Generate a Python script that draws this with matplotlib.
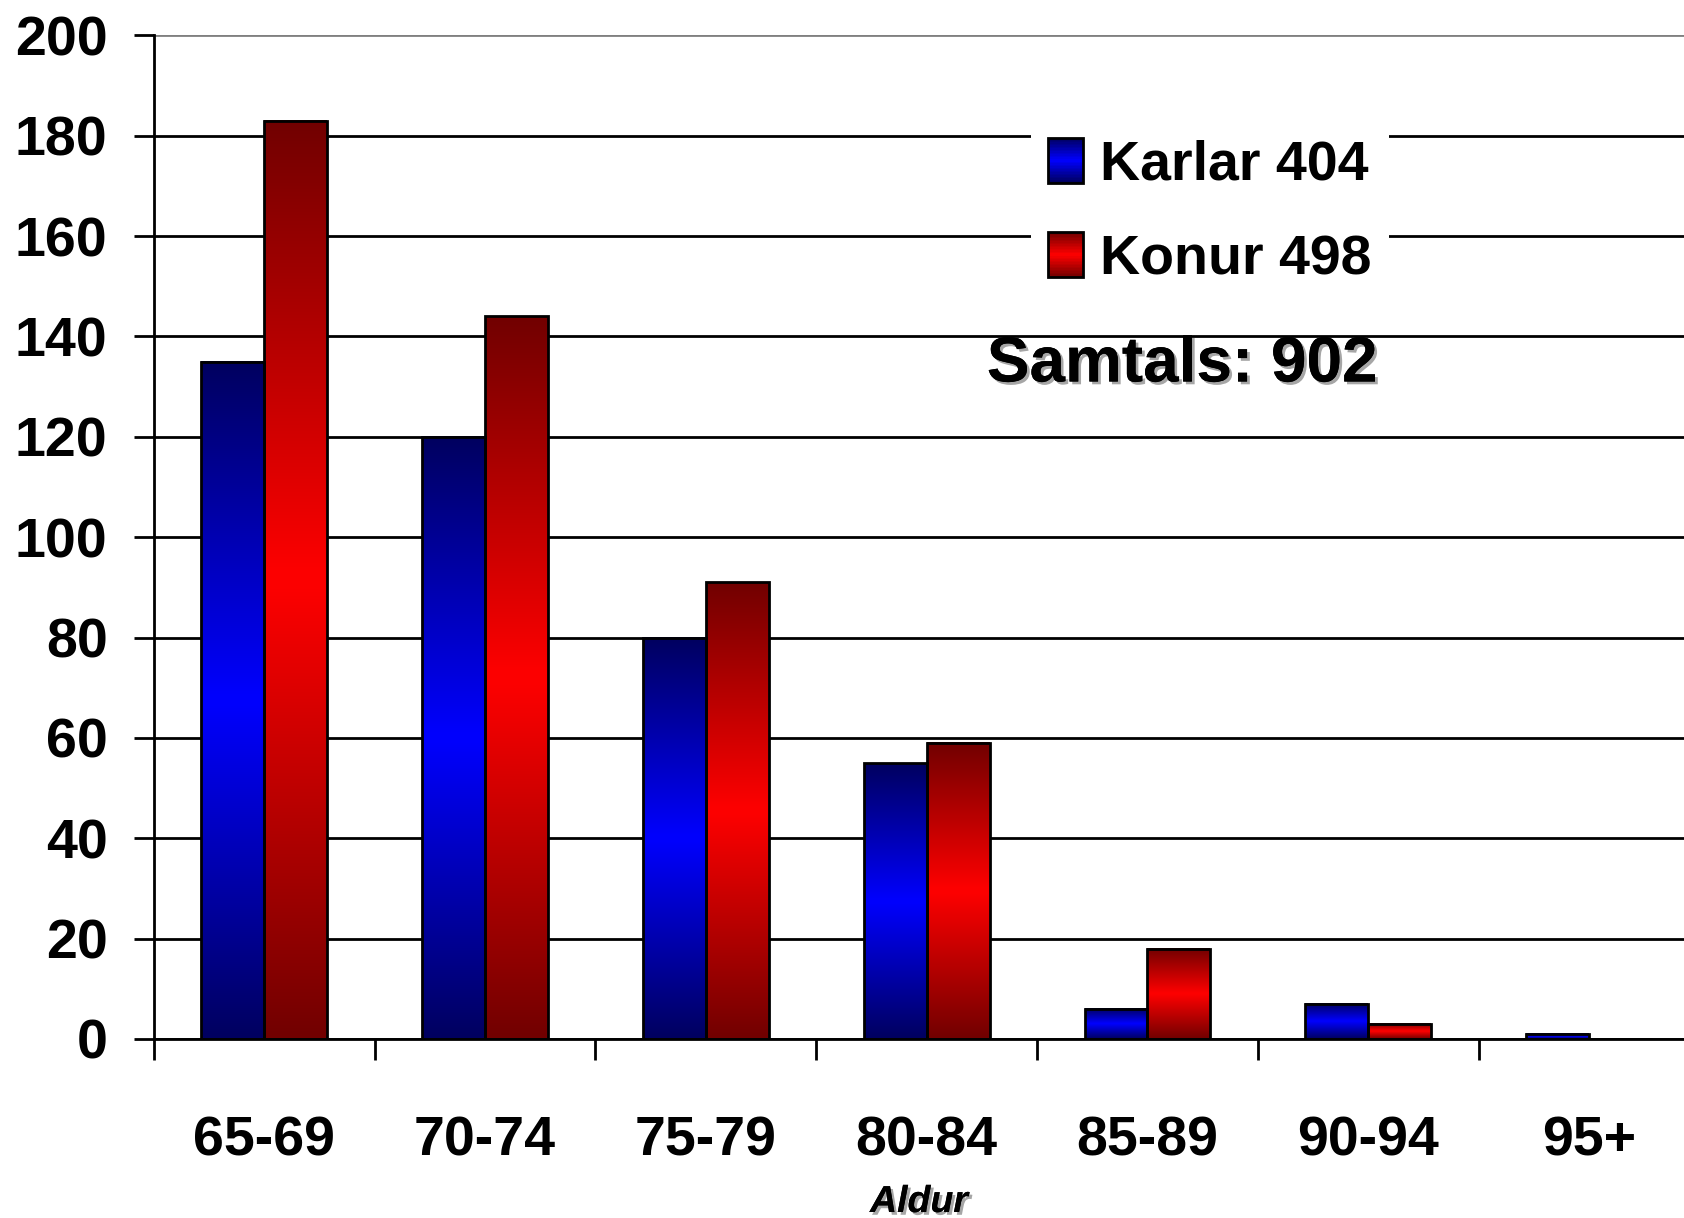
import numpy as np
import matplotlib
matplotlib.use("Agg")
import matplotlib.pyplot as plt
from matplotlib.patches import Rectangle
from matplotlib.legend_handler import HandlerBase
import matplotlib.patheffects as pe

# gögn
aldur = ["65-69", "70-74", "75-79", "80-84", "85-89", "90-94", "95+"]
karlar = [135, 120, 80, 55, 6, 7, 1]
konur = [183, 144, 91, 59, 18, 3, 0]
yticks = [0, 20, 40, 60, 80, 100, 120, 140, 160, 180, 200]

FONT = ["Liberation Sans", "DejaVu Sans"]

BLUE = ((0, 0, 0.38), (0, 0, 1))
RED = ((0.45, 0, 0), (1, 0, 0))


def grad(cols, n=64):
    dark, bright = np.array(cols[0]), np.array(cols[1])
    t = np.linspace(0, 1, n)
    s = 1 - np.abs(2 * t - 1)
    return dark[None, :] + (bright - dark)[None, :] * s[:, None]


class HandlerGrad(HandlerBase):
    def __init__(self, cols):
        super().__init__()
        self.cols = cols

    def create_artists(self, legend, orig_handle, xdescent, ydescent,
                       width, height, fontsize, trans):
        g = grad(self.cols, 30)
        w = height * 0.96
        x0 = -xdescent + (width - w) / 2
        h = height * 1.25
        y0 = -ydescent - (h - height) / 2
        out = []
        for i, c in enumerate(g):
            yy = y0 + h - (i + 1) * h / len(g)
            out.append(Rectangle((x0, yy), w, h / len(g) * 1.05, facecolor=c,
                                 edgecolor="none", transform=trans))
        out.append(Rectangle((x0, y0), w, h, facecolor="none", edgecolor="black",
                             lw=2, transform=trans))
        return out


fig = plt.figure(figsize=(16.84, 12.18), dpi=100)
ax = fig.add_axes([0.0914, 0.147, 0.9086, 0.824])

x = np.arange(len(aldur))
bw = 0.285
b1 = ax.bar(x - bw / 2, karlar, bw, facecolor="none", edgecolor="black", lw=2, zorder=3)
b2 = ax.bar(x + bw / 2, konur, bw, facecolor="none", edgecolor="black", lw=2, zorder=3)

for bars, cols in ((b1, BLUE), (b2, RED)):
    img = grad(cols)[:, None, :]
    for r in bars:
        if r.get_height() <= 0:
            continue
        x0, y0 = r.get_x(), r.get_y()
        ax.imshow(img, extent=(x0, x0 + r.get_width(), y0, y0 + r.get_height()),
                  aspect="auto", origin="upper", zorder=2.5, interpolation="bilinear")

ax.set_xlim(-0.5, 6.43)
ax.set_ylim(0, 200)

# ásar
for s in ("top", "right", "bottom"):
    ax.spines[s].set_visible(False)
ax.spines["left"].set_linewidth(2)
ax.axhline(0, color="black", lw=2, zorder=4, clip_on=False)
ax.set_yticks(yticks)
ax.yaxis.grid(True, color="black", lw=2)
ax.set_axisbelow(True)
ax.get_ygridlines()[-1].set_color("#808080")
ax.tick_params(axis="y", length=14.4, width=2, pad=19)
for lab in ax.get_yticklabels():
    lab.set_fontfamily(FONT)
    lab.set_fontweight("bold")
    lab.set_fontsize(40)

ax.set_xticks(x)
ax.set_xticklabels(aldur, fontfamily=FONT, fontweight="bold", fontsize=40)
ax.set_xticks(np.arange(len(aldur)) - 0.5, minor=True)
ax.tick_params(axis="x", which="major", length=0, pad=55)
ax.tick_params(axis="x", which="minor", length=15, width=2)

shadow = [pe.withSimplePatchShadow(offset=(2, -2), shadow_rgbFace="gray", alpha=0.7), pe.Normal()]
ax.set_xlabel("Aldur", fontfamily=FONT, fontweight="bold", fontstyle="italic",
              fontsize=27, labelpad=12, path_effects=shadow)

ax.text(0.672, 0.672, "Samtals: 902", transform=ax.transAxes, ha="center", va="center",
        fontfamily=FONT, fontweight="bold", fontsize=46, path_effects=shadow)

h1 = Rectangle((0, 0), 1, 1)
h2 = Rectangle((0, 0), 1, 1)
leg = ax.legend([h1, h2], ["Karlar 404", "Konur 498"],
                handler_map={h1: HandlerGrad(BLUE), h2: HandlerGrad(RED)},
                loc="upper left", bbox_to_anchor=(1031 / 1684, 1 - 123 / 1218),
                bbox_transform=fig.transFigure, frameon=True, fancybox=False,
                edgecolor="none", facecolor="white", framealpha=1,
                prop={"family": FONT, "weight": "bold", "size": 40},
                handlelength=0.65, handleheight=0.62, handletextpad=0.3,
                labelspacing=0.77, borderpad=0.3, borderaxespad=0)
leg.set_zorder(5)

fig.savefig("out.png", dpi=100)
